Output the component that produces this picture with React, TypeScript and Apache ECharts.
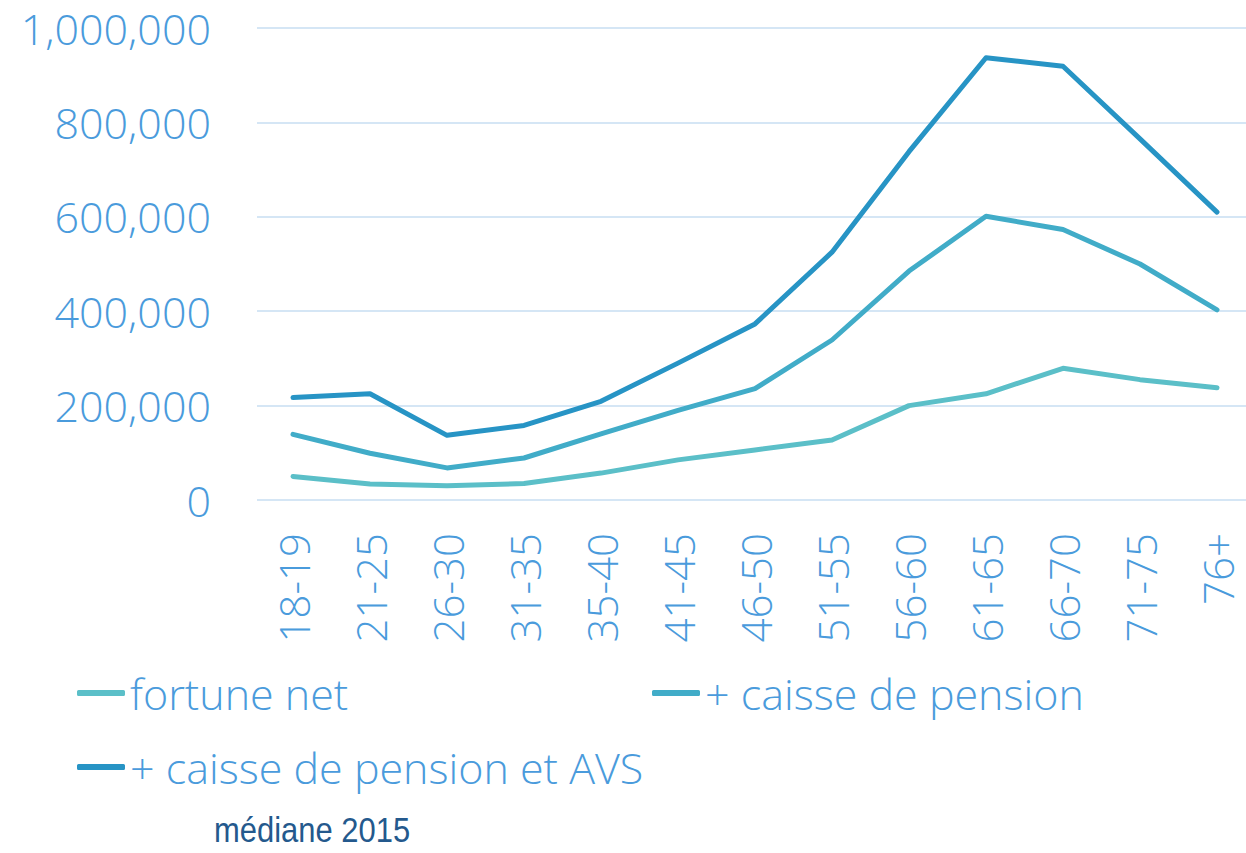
import React, { useEffect, useRef } from "react";
import * as echarts from "echarts";

const categories = ["18-19", "21-25", "26-30", "31-35", "35-40", "41-45", "46-50", "51-55", "56-60", "61-65", "66-70", "71-75", "76+"];
const fortuneNet = [50000, 34000, 30000, 35000, 57000, 85000, 106000, 127000, 200000, 225000, 279000, 255000, 238000];
const caissePension = [139000, 99000, 68000, 89000, 140000, 190000, 236000, 339000, 485000, 601000, 573000, 500000, 403000];
const caissePensionAVS = [217000, 225000, 137000, 158000, 209000, 290000, 373000, 525000, 738000, 937000, 919000, 765000, 610000];
const seriesNames = ["fortune net", "+ caisse de pension", "+ caisse de pension et AVS"];
const seriesColors = ["#5BBFC8", "#41ACC8", "#2794C5"];
const yTicks = { min: 0, max: 1000000, interval: 200000 };
const footnote = "médiane 2015";

const labelColor = "#4A9BDC";
const font = "'Open Sans', sans-serif";

export default function App() {
  const ref = useRef<HTMLDivElement>(null);
  useEffect(() => {
    document.body.style.margin = "0";
    const chart = echarts.init(ref.current!, null, { renderer: "svg" });
    const data = [fortuneNet, caissePension, caissePensionAVS];
    const legendText = { color: labelColor, fontSize: 43, fontFamily: font, fontWeight: 300, lineHeight: 50 };
    const legendBase = {
      orient: "horizontal",
      itemWidth: 48,
      itemHeight: 6,
      itemGap: 0,
      padding: 0,
      selectedMode: false,
      textStyle: legendText,
      icon: "roundRect",
    };
    const axisFont = { color: labelColor, fontFamily: font, fontWeight: 300 };
    chart.setOption({
      animation: false,
      backgroundColor: "#ffffff",
      grid: [
        { left: 257, top: 28, right: 0, height: 472 },
        { left: 293, top: 28, right: 29, height: 472 },
      ],
      legend: [
        { ...legendBase, data: [seriesNames[0]], left: 77, top: 668 },
        { ...legendBase, data: [seriesNames[1]], left: 652, top: 668 },
        { ...legendBase, data: [seriesNames[2]], left: 77, top: 742 },
      ],
      xAxis: [
        { type: "value", gridIndex: 0, show: false, min: 0, max: 1 },
        {
          type: "category",
          gridIndex: 1,
          data: categories,
          boundaryGap: false,
          axisLine: { show: false },
          axisTick: { show: false },
          splitLine: { show: false },
          axisLabel: { ...axisFont, fontSize: 42, rotate: 90, margin: 33, interval: 0 },
        },
      ],
      yAxis: [
        {
          type: "value",
          gridIndex: 0,
          min: yTicks.min,
          max: yTicks.max,
          interval: yTicks.interval,
          axisLine: { show: false },
          axisTick: { show: false },
          splitLine: { lineStyle: { color: "#D5E6F5", width: 2 } },
          axisLabel: {
            ...axisFont,
            fontSize: 43,
            margin: 46,
            formatter: (v: number) => v.toLocaleString("en-US"),
          },
        },
        {
          type: "value",
          gridIndex: 1,
          min: yTicks.min,
          max: yTicks.max,
          interval: yTicks.interval,
          show: false,
          splitLine: { show: false },
        },
      ],
      graphic: [
        {
          type: "text",
          left: 214,
          top: 812,
          scaleX: 0.86,
          style: {
            text: footnote,
            fill: "#24598D",
            font: "36px 'Liberation Sans', Arial, sans-serif",
          },
        },
      ],
      series: data.map((d, i) => ({
        name: seriesNames[i],
        type: "line",
        xAxisIndex: 1,
        yAxisIndex: 1,
        data: d,
        symbol: "none",
        showSymbol: false,
        color: seriesColors[i],
        lineStyle: { width: 5, color: seriesColors[i], cap: "round", join: "round" },
        z: 2 + i,
      })),
    });
    return () => chart.dispose();
  }, []);
  return <div ref={ref} style={{ width: 1246, height: 853 }} />;
}
